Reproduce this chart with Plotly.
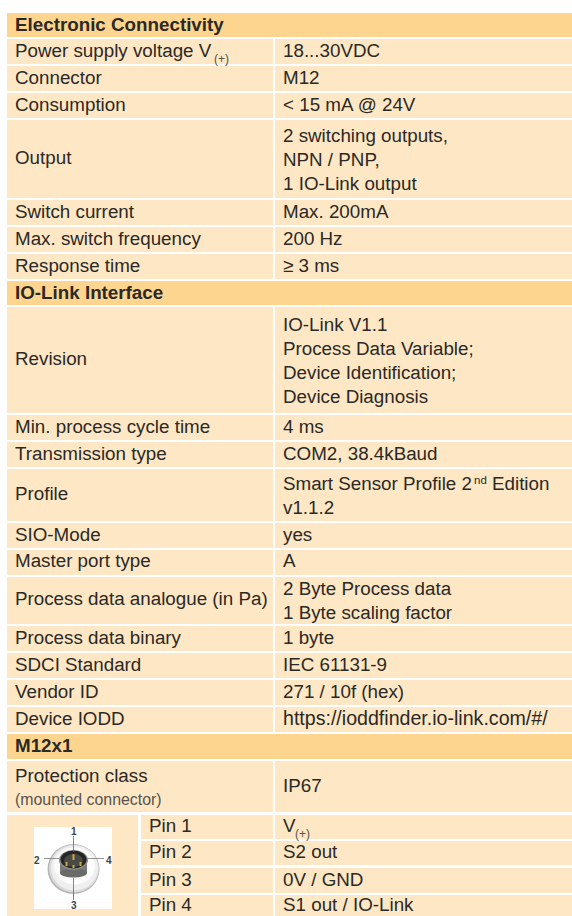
import plotly.graph_objects as go

SECTION_1 = "Electronic Connectivity"
SECTION_2 = "IO-Link Interface"
SECTION_3 = "M12x1"

labels_1 = ["Power supply voltage V", "Connector", "Consumption", "Output",
            "Switch current", "Max. switch frequency", "Response time"]
values_1 = [["18...30VDC"], ["M12"], ["< 15 mA @ 24V"],
            ["2 switching outputs,", "NPN / PNP,", "1 IO-Link output"],
            ["Max. 200mA"], ["200 Hz"], ["≥ 3 ms"]]
labels_2 = ["Revision", "Min. process cycle time", "Transmission type", "Profile", "SIO-Mode",
            "Master port type", "Process data analogue (in Pa)", "Process data binary",
            "SDCI Standard", "Vendor ID", "Device IODD"]
values_2 = [["IO-Link V1.1", "Process Data Variable;", "Device Identification;", "Device Diagnosis"],
            ["4 ms"], ["COM2, 38.4kBaud"],
            ["Smart Sensor Profile 2", "v1.1.2"], ["yes"], ["A"],
            ["2 Byte Process data", "1 Byte scaling factor"], ["1 byte"], ["IEC 61131-9"],
            ["271 / 10f (hex)"], ["https://ioddfinder.io-link.com/#/"]]
profile_tail = ["nd", "Edition"]
subscript = "(+)"
protection_label = ["Protection class", "(mounted connector)"]
protection_value = ["IP67"]
pins = ["Pin 1", "Pin 2", "Pin 3", "Pin 4"]
pin_values = ["V", "S2 out", "0V / GND", "S1 out / IO-Link"]
pin_numbers = ["1", "2", "3", "4"]

# ---- layout (pixels of the page) ----
W, H = 572, 916
HEAD = "#FDD58F"
CELL = "#FDE7C4"
INK = "#2B2926"
FONT = "Liberation Sans"
SIZE = 18.8
LEFT, DIV_L, DIV_R, RIGHT = 6.5, 272.7, 275, 572
PIN_L, PIN_R = 138.3, 140.8
TX_L, TX_R, TX_P = 15, 283, 149
LEAD = 23.9

head_spans = [(13, 37), (281, 305.3), (734, 758.7)]
spans_1 = [(39.3, 64), (66, 91), (93, 118), (120, 198), (200, 225), (227, 252), (254, 279)]
spans_2 = [(307.3, 413), (415, 440), (442, 467), (469, 521), (523, 548), (550, 574.5),
           (576.7, 624), (626, 651), (653, 678), (680, 705), (707, 732)]
span_prot = (760.7, 812.3)
span_pins = [(814.8, 839), (841.3, 865.3), (868, 893), (895, 916)]

fig = go.Figure()
bars = {"y": [], "w": [], "h": [], "base": [], "c": []}


def cell(x0, x1, y0, y1, color):
    bars["y"].append((y0 + y1) / 2)
    bars["w"].append(x1 - x0)
    bars["h"].append(y1 - y0)
    bars["base"].append(x0)
    bars["c"].append(color)


ann = []


def text(x, y, s, size=SIZE, color=INK, bold=False, family=FONT, anchor="left"):
    if bold:
        s = "<b>" + s + "</b>"
    ann.append(dict(x=x, y=y, xref="x", yref="y", text=s, showarrow=False,
                    xanchor=anchor, yanchor="middle", align="left",
                    font=dict(family=family, size=size, color=color),
                    borderpad=0, borderwidth=0))


def lines(x, span, rows):
    n = len(rows)
    mid = (span[0] + span[1]) / 2 + (0.5 if n > 1 else -1.5)
    for i, r in enumerate(rows):
        y = mid + (i - (n - 1) / 2) * LEAD
        if r.startswith("https"):
            text(x, y, r, size=19.6)
        else:
            text(x, y, r)


for span, title in zip(head_spans, [SECTION_1, SECTION_2, SECTION_3]):
    cell(LEFT, RIGHT, span[0], span[1], HEAD)
    text(TX_L, (span[0] + span[1]) / 2 - 0.5, title, bold=True)

for spans, labs, vals in [(spans_1, labels_1, values_1), (spans_2, labels_2, values_2)]:
    for span, lab, val in zip(spans, labs, vals):
        cell(LEFT, DIV_L, span[0], span[1], CELL)
        cell(DIV_R, RIGHT, span[0], span[1], CELL)
        lines(TX_L, span, [lab])
        lines(TX_R, span, val)

# subscripts and the superscript are placed next to the text they belong to
text(213.5, 58.5, subscript, size=12, color="#57534E")
text(294.5, 833.6, subscript, size=12, color="#57534E")
text(473.5, 479.5, profile_tail[0], size=11.5)
text(492, 483.5, profile_tail[1])

cell(LEFT, DIV_L, span_prot[0], span_prot[1], CELL)
cell(DIV_R, RIGHT, span_prot[0], span_prot[1], CELL)
text(TX_L, 775, protection_label[0])
text(TX_L, 799.5, protection_label[1], size=15.9, color="#57534E")
lines(TX_R, span_prot, protection_value)

cell(LEFT, PIN_L, span_pins[0][0], H, CELL)
for span, pin, val in zip(span_pins, pins, pin_values):
    cell(PIN_R, DIV_L, span[0], span[1], CELL)
    cell(DIV_R, RIGHT, span[0], span[1], CELL)
    lines(TX_P, span, [pin])
    lines(TX_R, span, [val])

cell(34, 112, 827, 909, "#FFFFFF")
fig.add_trace(go.Bar(orientation="h", y=bars["y"], x=bars["w"], width=bars["h"], base=bars["base"],
                     marker=dict(color=bars["c"], line=dict(width=0)), hoverinfo="skip", showlegend=False))

# connector sketch
shapes = []


def ell(cx, cy, rx, ry, fill, line=None, lw=0):
    shapes.append(dict(type="circle", xref="x", yref="y", x0=cx - rx, x1=cx + rx, y0=cy - ry, y1=cy + ry,
                       fillcolor=fill, line=dict(color=line or fill, width=lw), layer="above"))


def seg(x0, y0, x1, y1, color, w=1):
    shapes.append(dict(type="line", xref="x", yref="y", x0=x0, y0=y0, x1=x1, y1=y1,
                       line=dict(color=color, width=w), layer="above"))


CX, CY = 73.5, 869
ell(CX, CY, 26, 25, "#B5B5B5")
ell(CX + 0.5, CY - 0.5, 25, 24, "#DADADA")
ell(CX + 1, CY - 1, 23.5, 22.5, "#EFEFEF")
ell(CX + 1, CY - 3, 20.5, 18.5, "#FCFCFC")
shapes.append(dict(type="rect", xref="x", yref="y", x0=60, x1=87, y0=860, y1=873, fillcolor="#7A7A76",
                   line=dict(width=0), layer="above"))
ell(CX, 873, 13.5, 4.5, "#6A6A66")
ell(CX, 860, 14.5, 10, "#8A8A86")
ell(CX, 859.5, 13, 9, "#262626")
ell(CX, 860.5, 9.5, 6.5, "#4A4A44")
seg(CX, 854, CX, 860, "#C9A93F", 2)
seg(66.5, 862, 66.5, 866, "#C9A93F", 2)
seg(80.5, 862, 80.5, 866, "#C9A93F", 2)
seg(CX, 865, CX, 868, "#C9A93F", 2)
seg(CX, 836, CX, 852, "#666666", 0.8)
seg(CX, 878, CX, 900, "#666666", 0.8)
seg(44, 858.5, 59, 858.5, "#777777", 0.8)
seg(88, 858.5, 104, 858.5, "#777777", 0.8)
pin_pos = [(73.5, 831), (37, 860), (73.5, 905), (109, 860)]
for num, (px, py) in zip(pin_numbers, pin_pos):
    text(px, py, num, size=10, color="#444444", bold=True, anchor="center")

fig.update_layout(width=W, height=H, margin=dict(l=0, r=0, t=0, b=0), paper_bgcolor="#FFFFFF",
                  plot_bgcolor="#FFFFFF", annotations=ann, shapes=shapes, bargap=0, barmode="overlay",
                  xaxis=dict(range=[0, W], visible=False, fixedrange=True),
                  yaxis=dict(range=[H, 0], visible=False, fixedrange=True))
fig.write_html("out.html", config={"displayModeBar": False},
               post_script="document.body.style.margin='0';")
